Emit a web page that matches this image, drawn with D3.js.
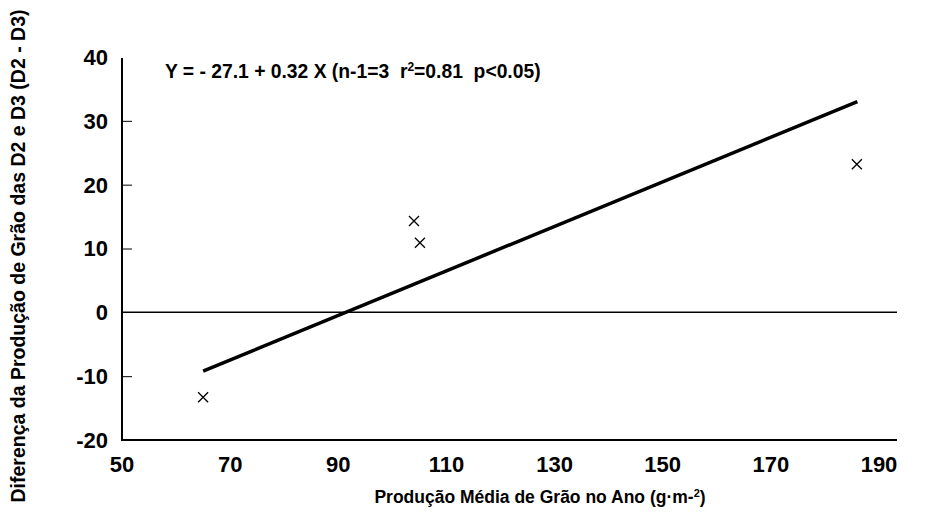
<!DOCTYPE html>
<html><head><meta charset="utf-8">
<script src="https://cdn.jsdelivr.net/npm/d3@7"></script>
<style>body{margin:0;background:#fff}svg{display:block}text{font-family:"Liberation Sans",Arial,sans-serif;font-weight:bold;fill:#000}</style>
</head><body><svg id="c" width="925" height="512"></svg>
<script>
const pointsX = [65.0, 104.0, 105.1, 185.9];
const pointsY = [-13.3, 14.3, 10.9, 23.2];
const lineX = [65, 186];
const lineY = [-9.2, 33.0];
const xTicks = [50, 70, 90, 110, 130, 150, 170, 190];
const yTicks = [-20, -10, 0, 10, 20, 30, 40];
const equation = "Y = - 27.1 + 0.32 X (n-1=3  r";
const xTitle = "Produção Média de Grão no Ano (g·m-";
const yTitle = "Diferença da Produção de Grão das D2 e D3 (D2 - D3)";

const svg = d3.select("#c");
const x = d3.scaleLinear().domain([50, 190]).range([122, 879]);
const y = d3.scaleLinear().domain([-20, 40]).range([440, 57]);
const xEnd = 897;

// y axis
const ya = svg.append("g").attr("transform", "translate(122,0)")
  .call(d3.axisRight(y).tickValues(yTicks.filter(d => d !== 0 && d !== 40 && d !== -20)).tickSize(10).tickFormat(""));
ya.select(".domain").remove();
ya.selectAll(".tick line").attr("stroke", "#000").attr("stroke-width", 1);
svg.append("line").attr("x1", 122).attr("x2", 122).attr("y1", y(40) + 1).attr("y2", y(-20)).attr("stroke", "#000").attr("stroke-width", 2);
svg.append("line").attr("x1", 121).attr("x2", xEnd).attr("y1", y(-20)).attr("y2", y(-20)).attr("stroke", "#000").attr("stroke-width", 2);
svg.append("line").attr("x1", 122).attr("x2", xEnd).attr("y1", y(0)).attr("y2", y(0)).attr("stroke", "#000").attr("stroke-width", 1.5);

svg.append("g").selectAll("text").data(yTicks).join("text")
  .attr("x", 108).attr("y", d => y(d)).attr("dy", "0.36em").attr("text-anchor", "end")
  .style("font-size", "22px").text(d => d);
svg.append("g").selectAll("text").data(xTicks).join("text")
  .attr("x", d => x(d)).attr("y", 464).attr("dy", "0.36em").attr("text-anchor", "middle")
  .style("font-size", "22px").text(d => d);

// regression line
svg.append("path").datum(lineX.map((d, i) => [d, lineY[i]]))
  .attr("d", d3.line().x(d => x(d[0])).y(d => y(d[1])))
  .attr("stroke", "#000").attr("stroke-width", 3.5).attr("fill", "none");

// points (x markers)
const s = 5;
svg.append("g").selectAll("path").data(pointsX.map((d, i) => [d, pointsY[i]])).join("path")
  .attr("d", d => { const cx = x(d[0]), cy = y(d[1]); return `M${cx-s},${cy-s}L${cx+s},${cy+s}M${cx-s},${cy+s}L${cx+s},${cy-s}`; })
  .attr("stroke", "#000").attr("stroke-width", 1.3);

// equation
const eq = svg.append("text").attr("x", 165).attr("y", 78).style("font-size", "19.3px").style("white-space", "pre");
eq.append("tspan").text(equation);
eq.append("tspan").text("2").attr("dy", -7).style("font-size", "12px");
eq.append("tspan").text("=0.81  p<0.05)").attr("dy", 7);

// titles
const xt = svg.append("text").attr("x", 540).attr("y", 503).attr("text-anchor", "middle").style("font-size", "17.5px");
xt.append("tspan").text(xTitle);
xt.append("tspan").text("2").attr("dy", -6).style("font-size", "11px");
xt.append("tspan").text(")").attr("dy", 6);

svg.append("text").attr("transform", "translate(25,256) rotate(-90)").attr("text-anchor", "middle")
  .style("font-size", "19.5px").text(yTitle);
</script></body></html>
